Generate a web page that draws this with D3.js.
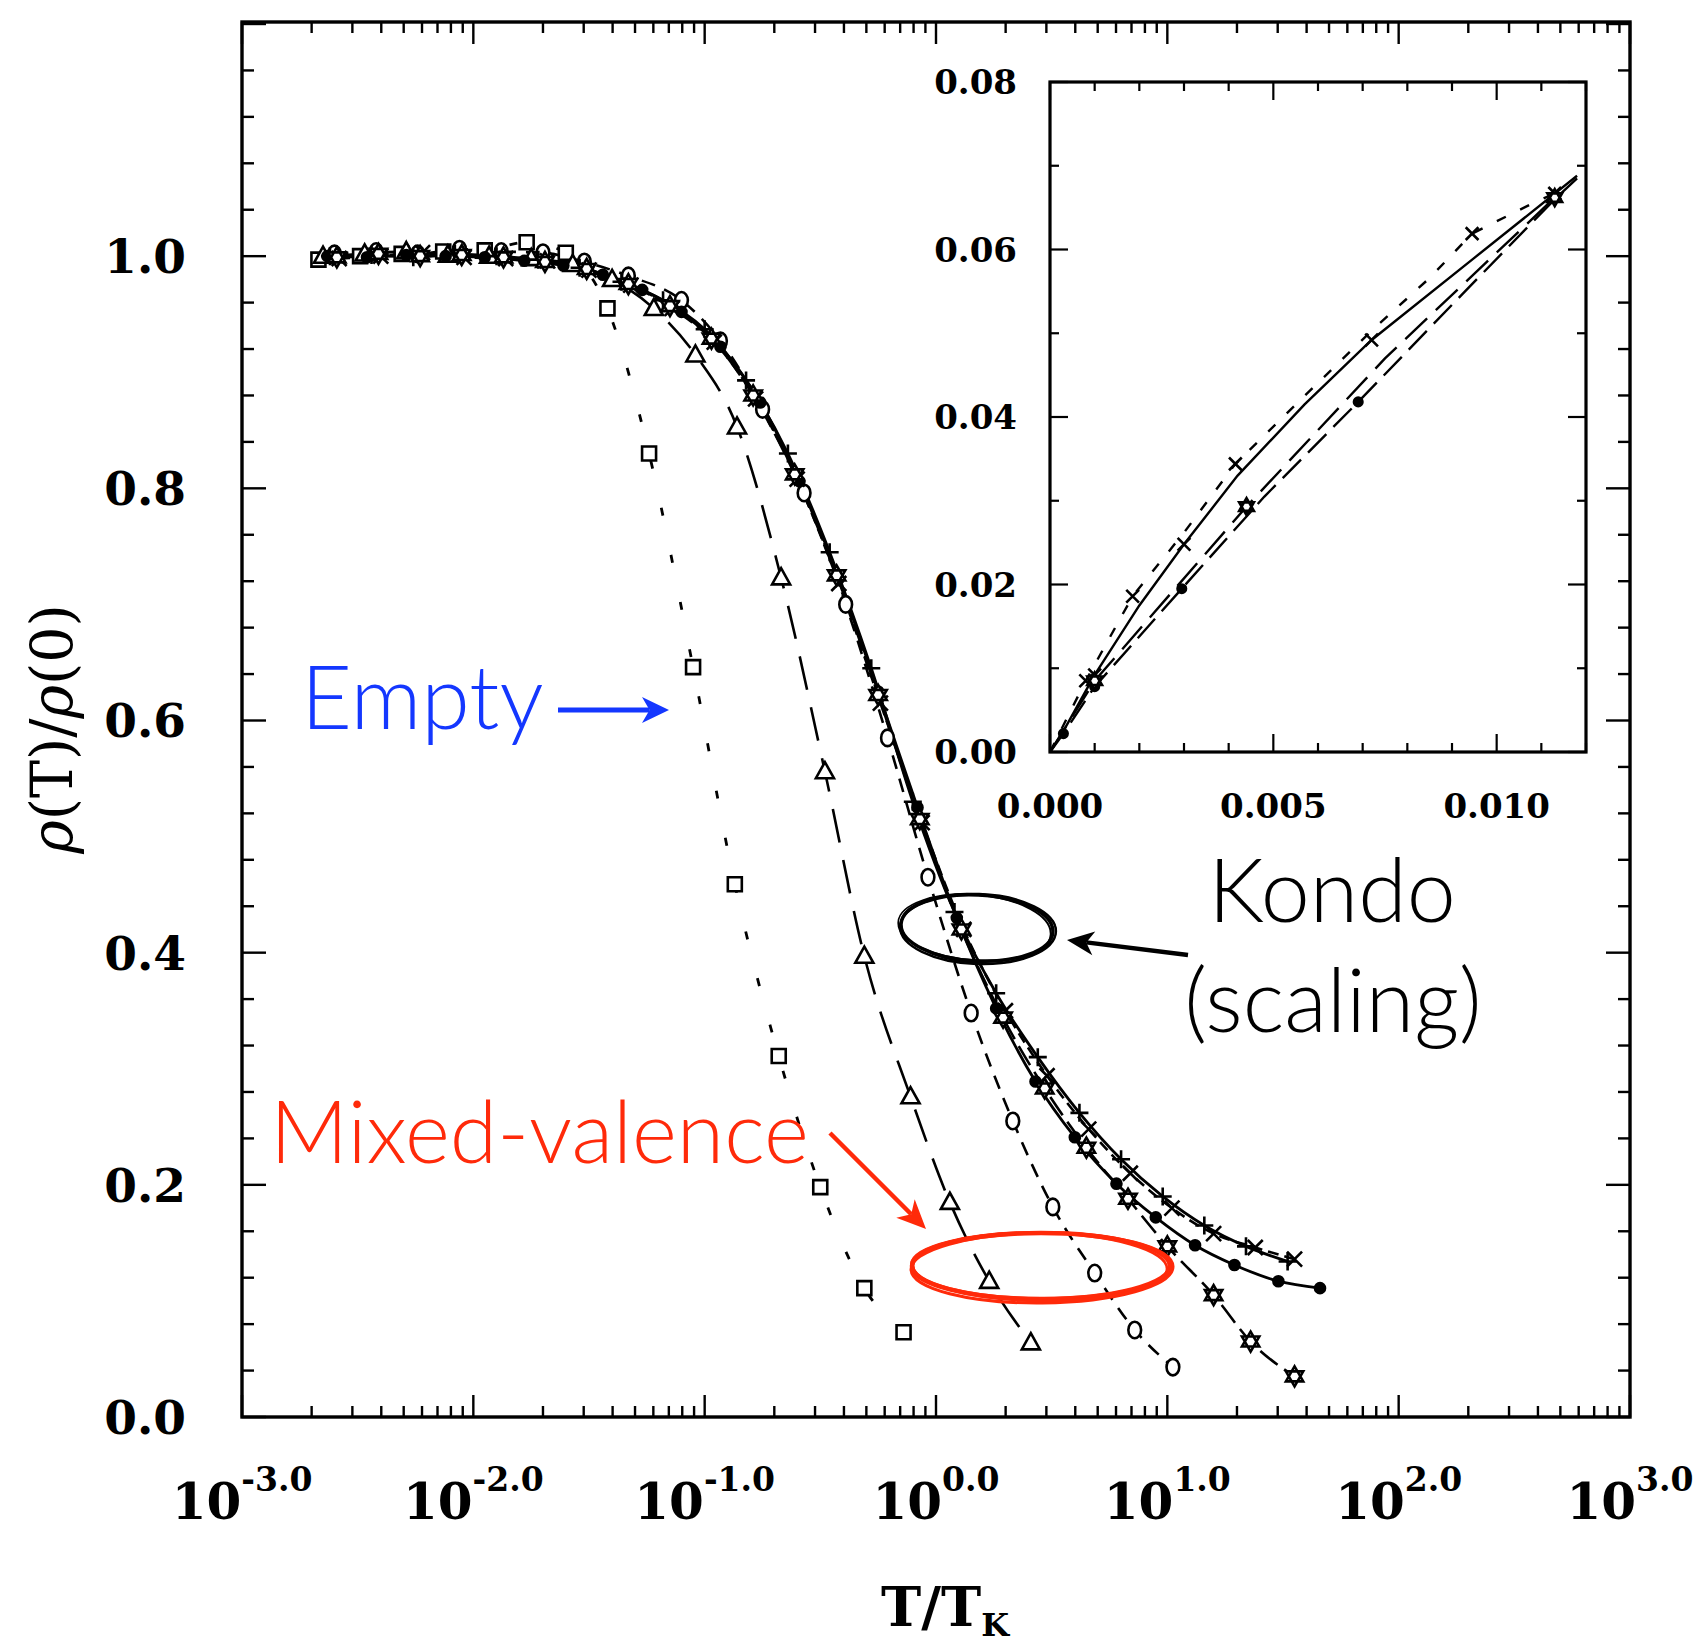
<!DOCTYPE html>
<html>
<head>
<meta charset="utf-8">
<script src="https://cdn.jsdelivr.net/npm/d3@7"></script>
<style>
  html, body { margin: 0; padding: 0; background: #fff; }
  svg { display: block; }
</style>
</head>
<body>
<svg id="chart" width="1703" height="1649"></svg>
<script>
// ---------------- main panel data: rho(T)/rho(0) versus T/T_K ----------------
// empty orbital (open squares, dotted)
const T_EMPTY = [0.00214, 0.00324, 0.00490, 0.00741, 0.0112, 0.0170, 0.0251, 0.0380, 0.0575, 0.0891, 0.135, 0.209, 0.316, 0.490, 0.724];
const R_EMPTY = [0.997, 1.000, 1.002, 1.004, 1.005, 1.012, 1.003, 0.955, 0.830, 0.646, 0.459, 0.311, 0.198, 0.111, 0.073];

// mixed valence (open triangles, long dashes)
const T_TRI = [0.00224, 0.00339, 0.00513, 0.00776, 0.0117, 0.0178, 0.0269, 0.0398, 0.0603, 0.0912, 0.138, 0.214, 0.331, 0.490, 0.776, 1.148, 1.698, 2.570];
const R_TRI = [1.000, 1.002, 1.004, 1.001, 1.000, 0.998, 0.993, 0.980, 0.955, 0.915, 0.853, 0.723, 0.556, 0.397, 0.276, 0.185, 0.117, 0.064];

// mixed valence (open circles, short dashes)
const T_CIRC = [0.00251, 0.00380, 0.00575, 0.00871, 0.0132, 0.0200, 0.0302, 0.0468, 0.0794, 0.117, 0.178, 0.269, 0.407, 0.617, 0.923, 1.419, 2.148, 3.199, 4.853, 7.228, 10.57];
const R_CIRC = [1.002, 1.004, 1.002, 1.006, 1.004, 1.003, 0.995, 0.983, 0.962, 0.927, 0.868, 0.796, 0.700, 0.585, 0.465, 0.348, 0.255, 0.181, 0.124, 0.075, 0.043];

// Kondo regime (plus signs, solid)
const T_PLUS = [0.00240, 0.00363, 0.00550, 0.00832, 0.0126, 0.0191, 0.0288, 0.0437, 0.0661, 0.100, 0.151, 0.229, 0.347, 0.525, 0.794, 1.202, 1.820, 2.754, 4.169, 6.310, 9.550, 14.45, 21.88, 33.11];
const R_PLUS = [1.000, 1.001, 0.999, 1.002, 1.000, 0.997, 0.990, 0.978, 0.962, 0.937, 0.893, 0.830, 0.745, 0.645, 0.530, 0.435, 0.365, 0.310, 0.262, 0.222, 0.190, 0.165, 0.147, 0.134];

// Kondo regime (crosses, dashed)
const T_CROSS = [0.00263, 0.00398, 0.00603, 0.00912, 0.0138, 0.0209, 0.0316, 0.0479, 0.0724, 0.110, 0.166, 0.251, 0.380, 0.575, 0.871, 1.318, 1.995, 3.020, 4.571, 6.918, 10.47, 15.85, 23.99, 35.48];
const R_CROSS = [0.998, 1.000, 1.003, 0.999, 0.998, 0.996, 0.988, 0.975, 0.955, 0.926, 0.877, 0.808, 0.718, 0.615, 0.512, 0.420, 0.350, 0.294, 0.248, 0.210, 0.180, 0.158, 0.146, 0.136];

// Kondo regime (filled dots, solid)
const T_DOT = [0.00234, 0.00347, 0.00513, 0.00759, 0.0112, 0.0166, 0.0245, 0.0363, 0.0537, 0.0794, 0.117, 0.174, 0.257, 0.380, 0.562, 0.832, 1.230, 1.820, 2.692, 3.981, 6.026, 8.913, 13.18, 19.50, 30.20, 45.71];
const R_DOT = [1.000, 0.999, 1.001, 1.000, 0.999, 0.996, 0.992, 0.984, 0.971, 0.952, 0.922, 0.874, 0.806, 0.722, 0.625, 0.525, 0.430, 0.352, 0.289, 0.241, 0.201, 0.172, 0.148, 0.131, 0.117, 0.111];

// Kondo regime (six-pointed stars, long dashes)
const T_STAR = [0.00257, 0.00389, 0.00589, 0.00891, 0.0135, 0.0204, 0.0309, 0.0468, 0.0708, 0.107, 0.162, 0.245, 0.372, 0.562, 0.851, 1.288, 1.950, 2.951, 4.467, 6.761, 10.00, 15.85, 22.91, 35.48];
const R_STAR = [0.999, 1.002, 1.000, 1.001, 0.999, 0.995, 0.989, 0.976, 0.957, 0.929, 0.880, 0.812, 0.725, 0.622, 0.515, 0.420, 0.344, 0.283, 0.232, 0.188, 0.147, 0.105, 0.065, 0.035];

// axis labelling
const X_TICK_VAL = [1e-3, 1e-2, 1e-1, 1, 10, 100, 1000];
const X_TICK_EXP = ['-3.0', '-2.0', '-1.0', '0.0', '1.0', '2.0', '3.0'];
const Y_TICK_VAL = [0, 0.2, 0.4, 0.6, 0.8, 1.0];
const Y_TICK_LBL = ['0.0', '0.2', '0.4', '0.6', '0.8', '1.0'];

// ---------------- inset data: low-temperature region ----------------
const IN_SOLID_X = [0, 0.0003, 0.0010, 0.0020, 0.0030, 0.0042, 0.0057, 0.0072, 0.0095, 0.0118];
const IN_SOLID_Y = [0, 0.0025, 0.0092, 0.0175, 0.0248, 0.0330, 0.0415, 0.0492, 0.0590, 0.0688];
const IN_SOLID_MX = [0.0010, 0.0030, 0.0072, 0.0113];
const IN_SOLID_MY = [0.0092, 0.0248, 0.0492, 0.0667];

const IN_DASH_X = [0, 0.0008, 0.00185, 0.0030, 0.00415, 0.0056, 0.0072, 0.0085, 0.00945, 0.0108, 0.0113];
const IN_DASH_Y = [0, 0.0085, 0.0186, 0.0262, 0.0344, 0.0420, 0.0503, 0.0566, 0.0619, 0.0655, 0.0667];
const IN_DASH_MX = [0.0008, 0.00185, 0.00415, 0.00945];
const IN_DASH_MY = [0.0085, 0.0186, 0.0344, 0.0619];

const IN_DOT_X = [0, 0.0003, 0.0010, 0.00295, 0.0048, 0.0069, 0.0092, 0.0113, 0.0118];
const IN_DOT_Y = [0, 0.0022, 0.0078, 0.0195, 0.0305, 0.0418, 0.0545, 0.0660, 0.0685];
const IN_DOT_MX = [0.0003, 0.0010, 0.00295, 0.0069];
const IN_DOT_MY = [0.0022, 0.0078, 0.0195, 0.0418];

const IN_STAR_X = [0, 0.0010, 0.0044, 0.0075, 0.0113];
const IN_STAR_Y = [0, 0.0085, 0.0293, 0.0470, 0.0662];
const IN_STAR_MX = [0.0010, 0.0044, 0.0113];
const IN_STAR_MY = [0.0085, 0.0293, 0.0662];

const IN_X_TICK_VAL = [0, 0.005, 0.010];
const IN_X_TICK_LBL = ['0.000', '0.005', '0.010'];
const IN_Y_TICK_VAL = [0, 0.02, 0.04, 0.06, 0.08];
const IN_Y_TICK_LBL = ['0.00', '0.02', '0.04', '0.06', '0.08'];

// ---------------- geometry ----------------
const svg = d3.select('#chart');
const M = { left: 242, right: 1630, top: 22, bottom: 1417 };
const x = d3.scaleLog().domain([1e-3, 1e3]).range([M.left, M.right]);
const y = d3.scaleLinear().domain([0, 1.2]).range([M.bottom, 24]);

const I = { left: 1050, right: 1586, top: 82, bottom: 752 };
const ix = d3.scaleLinear().domain([0, 0.012]).range([I.left, I.right]);
const iy = d3.scaleLinear().domain([0, 0.08]).range([I.bottom, I.top]);

const TICK_FONT = '"DejaVu Serif", "Liberation Serif", serif';
const NOTE_FONT = 'Lato, "Open Sans", "Noto Sans", sans-serif';

// ---------------- marker shapes (size = radius in px) ----------------
const symSquare = { draw(c, r) { c.rect(-r, -r, 2 * r, 2 * r); } };
const symTriangle = { draw(c, r) { c.moveTo(0, -r); c.lineTo(r * 0.95, r * 0.7); c.lineTo(-r * 0.95, r * 0.7); c.closePath(); } };
// slightly tall oval, as the circles print on the page
const symOval = { draw(c, r) {
  const rx = r * 0.85, ry = r * 1.1, k = 0.5523;
  c.moveTo(rx, 0);
  c.bezierCurveTo(rx, ry * k, rx * k, ry, 0, ry);
  c.bezierCurveTo(-rx * k, ry, -rx, ry * k, -rx, 0);
  c.bezierCurveTo(-rx, -ry * k, -rx * k, -ry, 0, -ry);
  c.bezierCurveTo(rx * k, -ry, rx, -ry * k, rx, 0);
  c.closePath();
} };
const symCircle = { draw(c, r) { c.moveTo(r, 0); c.arc(0, 0, r, 0, 2 * Math.PI); } };
const symPlus = { draw(c, r) { c.moveTo(-r, 0); c.lineTo(r, 0); c.moveTo(0, -r); c.lineTo(0, r); } };
const symCross = { draw(c, r) { const a = r * 0.75; c.moveTo(-a, -a); c.lineTo(a, a); c.moveTo(-a, a); c.lineTo(a, -a); } };
const symStar6 = { draw(c, r) {
  for (const off of [-Math.PI / 2, Math.PI / 2]) {
    for (let k = 0; k < 3; k++) {
      const a = off + k * 2 * Math.PI / 3;
      const px = r * Math.cos(a), py = r * Math.sin(a);
      if (k === 0) c.moveTo(px, py); else c.lineTo(px, py);
    }
    c.closePath();
  }
} };

const markerStyle = {
  square:   { type: symSquare,   r: 7,   fill: '#fff' },
  triangle: { type: symTriangle, r: 9.5, fill: '#fff' },
  circle:   { type: symOval,     r: 7.5, fill: '#fff' },
  plus:     { type: symPlus,     r: 9,   fill: 'none' },
  cross:    { type: symCross,    r: 10,  fill: 'none' },
  dot:      { type: symCircle,   r: 5,   fill: '#000' },
  star:     { type: symStar6,    r: 10,  fill: '#fff' }
};

function drawMarkers(g, pts, kind, sx, sy, scale) {
  const st = markerStyle[kind];
  const r = st.r * (scale || 1);
  g.selectAll(null).data(pts).join('path')
    .attr('transform', d => `translate(${sx(d[0])},${sy(d[1])})`)
    .attr('d', d3.symbol().type(st.type).size(r))
    .attr('fill', st.fill)
    .attr('stroke', '#000')
    .attr('stroke-width', 2.6);
}

// ---------------- main panel ----------------
const main = svg.append('g');

const mainSeries = [
  { t: T_EMPTY, r: R_EMPTY, marker: 'square',   dash: '8,40',  w: 2.8 },
  { t: T_TRI,   r: R_TRI,   marker: 'triangle', dash: '34,18', w: 2.6 },
  { t: T_CIRC,  r: R_CIRC,  marker: 'circle',   dash: '14,10', w: 2.6 },
  { t: T_PLUS,  r: R_PLUS,  marker: 'plus',     dash: null,    w: 2.8 },
  { t: T_CROSS, r: R_CROSS, marker: 'cross',    dash: '11,6',  w: 2.6 },
  { t: T_DOT,   r: R_DOT,   marker: 'dot',      dash: null,    w: 2.8 },
  { t: T_STAR,  r: R_STAR,  marker: 'star',     dash: '22,8',  w: 2.6 }
];

const mainLine = d3.line().x(d => x(d[0])).y(d => y(d[1])).curve(d3.curveMonotoneX);
mainSeries.forEach(s => {
  const pts = s.t.map((v, i) => [v, s.r[i]]);
  main.append('path').datum(pts)
    .attr('d', mainLine)
    .attr('fill', 'none')
    .attr('stroke', '#000')
    .attr('stroke-width', s.w)
    .attr('stroke-dasharray', s.dash);
  s.pts = pts;
});
mainSeries.forEach(s => drawMarkers(main.append('g'), s.pts, s.marker, x, y));

// frame
main.append('rect')
  .attr('x', M.left).attr('y', M.top)
  .attr('width', M.right - M.left).attr('height', M.bottom - M.top)
  .attr('fill', 'none').attr('stroke', '#000').attr('stroke-width', 3.4);

// logarithmic ticks, bottom and top, pointing inward
const xTicks = x.ticks();
const isDecade = t => Math.abs(Math.log10(t) - Math.round(Math.log10(t))) < 1e-9;
main.append('g').selectAll('line').data(xTicks).join('line')
  .attr('x1', d => x(d)).attr('x2', d => x(d))
  .attr('y1', M.bottom).attr('y2', d => M.bottom - (isDecade(d) ? 22 : 11))
  .attr('stroke', '#000').attr('stroke-width', 2.4);
main.append('g').selectAll('line').data(xTicks).join('line')
  .attr('x1', d => x(d)).attr('x2', d => x(d))
  .attr('y1', M.top).attr('y2', d => M.top + (isDecade(d) ? 22 : 11))
  .attr('stroke', '#000').attr('stroke-width', 2.4);

// linear ticks, left and right, pointing inward
const yMinor = d3.range(0, 1.2001, 0.04);
const isMajorY = v => Math.abs(v / 0.2 - Math.round(v / 0.2)) < 1e-6;
main.append('g').selectAll('line').data(yMinor).join('line')
  .attr('y1', d => y(d)).attr('y2', d => y(d))
  .attr('x1', M.left).attr('x2', d => M.left + (isMajorY(d) ? 24 : 12))
  .attr('stroke', '#000').attr('stroke-width', 2.4);
main.append('g').selectAll('line').data(yMinor).join('line')
  .attr('y1', d => y(d)).attr('y2', d => y(d))
  .attr('x1', M.right).attr('x2', d => M.right - (isMajorY(d) ? 24 : 12))
  .attr('stroke', '#000').attr('stroke-width', 2.4);

// y tick labels
main.append('g').selectAll('text').data(Y_TICK_VAL).join('text')
  .attr('x', 186).attr('y', d => y(d)).attr('dy', '0.36em')
  .attr('text-anchor', 'end')
  .attr('font-family', TICK_FONT).attr('font-weight', 'bold').attr('font-size', 47)
  .text((d, i) => Y_TICK_LBL[i]);

// x tick labels: 10 with raised exponent
const xl = main.append('g').selectAll('text').data(X_TICK_VAL).join('text')
  .attr('x', d => x(d)).attr('y', 1519)
  .attr('text-anchor', 'middle')
  .attr('font-family', TICK_FONT).attr('font-weight', 'bold');
xl.append('tspan').attr('font-size', 50).text('10');
xl.append('tspan').attr('font-size', 33).attr('dy', -28).text((d, i) => X_TICK_EXP[i]);

// axis titles
const xt = main.append('text')
  .attr('x', 945).attr('y', 1626).attr('text-anchor', 'middle')
  .attr('font-family', TICK_FONT).attr('font-weight', 'bold');
xt.append('tspan').attr('font-size', 54).text('T/T');
xt.append('tspan').attr('font-size', 32).attr('dy', 10).text('K');

const yt = main.append('text')
  .attr('transform', 'translate(72,729) rotate(-90)')
  .attr('text-anchor', 'middle')
  .attr('font-family', TICK_FONT).attr('font-size', 57);
yt.append('tspan').attr('font-style', 'italic').text('ρ');
yt.append('tspan').text('(T)/');
yt.append('tspan').attr('font-style', 'italic').text('ρ');
yt.append('tspan').text('(0)');

// ---------------- inset ----------------
const inset = svg.append('g');
inset.append('rect')
  .attr('x', I.left).attr('y', I.top)
  .attr('width', I.right - I.left).attr('height', I.bottom - I.top)
  .attr('fill', '#fff');

const inLine = d3.line().x(d => ix(d[0])).y(d => iy(d[1]));
const insetSeries = [
  { xs: IN_SOLID_X, ys: IN_SOLID_Y, mx: IN_SOLID_MX, my: IN_SOLID_MY, marker: 'cross', dash: null },
  { xs: IN_DASH_X,  ys: IN_DASH_Y,  mx: IN_DASH_MX,  my: IN_DASH_MY,  marker: 'cross', dash: '10,16' },
  { xs: IN_DOT_X,   ys: IN_DOT_Y,   mx: IN_DOT_MX,   my: IN_DOT_MY,   marker: 'dot',   dash: '26,10' },
  { xs: IN_STAR_X,  ys: IN_STAR_Y,  mx: IN_STAR_MX,  my: IN_STAR_MY,  marker: 'star',  dash: '30,12' }
];
insetSeries.forEach(s => {
  inset.append('path').datum(s.xs.map((v, i) => [v, s.ys[i]]))
    .attr('d', inLine)
    .attr('fill', 'none').attr('stroke', '#000').attr('stroke-width', 2.4)
    .attr('stroke-dasharray', s.dash);
});
insetSeries.forEach(s => drawMarkers(inset.append('g'), s.mx.map((v, i) => [v, s.my[i]]), s.marker, ix, iy, 0.85));

inset.append('rect')
  .attr('x', I.left).attr('y', I.top)
  .attr('width', I.right - I.left).attr('height', I.bottom - I.top)
  .attr('fill', 'none').attr('stroke', '#000').attr('stroke-width', 3.2);

const ixMinor = d3.range(0, 0.01201, 0.001);
const isMajorIX = v => Math.abs(v / 0.005 - Math.round(v / 0.005)) < 1e-6;
[I.bottom, I.top].forEach((edge, k) => {
  const dir = k === 0 ? -1 : 1;
  inset.append('g').selectAll('line').data(ixMinor).join('line')
    .attr('x1', d => ix(d)).attr('x2', d => ix(d))
    .attr('y1', edge).attr('y2', d => edge + dir * (isMajorIX(d) ? 18 : 9))
    .attr('stroke', '#000').attr('stroke-width', 2.2);
});
const iyMinor = d3.range(0, 0.08001, 0.01);
const isMajorIY = v => Math.abs(v / 0.02 - Math.round(v / 0.02)) < 1e-6;
[I.left, I.right].forEach((edge, k) => {
  const dir = k === 0 ? 1 : -1;
  inset.append('g').selectAll('line').data(iyMinor).join('line')
    .attr('y1', d => iy(d)).attr('y2', d => iy(d))
    .attr('x1', edge).attr('x2', d => edge + dir * (isMajorIY(d) ? 18 : 9))
    .attr('stroke', '#000').attr('stroke-width', 2.2);
});

inset.append('g').selectAll('text').data(IN_Y_TICK_VAL).join('text')
  .attr('x', 1017).attr('y', d => iy(d)).attr('dy', '0.36em')
  .attr('text-anchor', 'end')
  .attr('font-family', TICK_FONT).attr('font-weight', 'bold').attr('font-size', 34)
  .text((d, i) => IN_Y_TICK_LBL[i]);
inset.append('g').selectAll('text').data(IN_X_TICK_VAL).join('text')
  .attr('x', d => ix(d)).attr('y', 818)
  .attr('text-anchor', 'middle')
  .attr('font-family', TICK_FONT).attr('font-weight', 'bold').attr('font-size', 34)
  .text((d, i) => IN_X_TICK_LBL[i]);

// ---------------- annotations ----------------
const notes = svg.append('g');

function arrow(g, x0, y0, x1, y1, color, width, len, half) {
  const ang = Math.atan2(y1 - y0, x1 - x0);
  const notch = len * 0.72;
  const ex = x1 - notch * Math.cos(ang), ey = y1 - notch * Math.sin(ang);
  g.append('line').attr('x1', x0).attr('y1', y0).attr('x2', ex).attr('y2', ey)
    .attr('stroke', color).attr('stroke-width', width);
  const p = d3.path();
  p.moveTo(0, 0); p.lineTo(-len, -half); p.lineTo(-notch, 0); p.lineTo(-len, half); p.closePath();
  g.append('path').attr('d', p.toString())
    .attr('transform', `translate(${x1},${y1}) rotate(${ang * 180 / Math.PI})`)
    .attr('fill', color);
}

function sketchEllipse(g, cx, cy, rx, ry, rot, color, passes) {
  passes.forEach(p => {
    g.append('ellipse')
      .attr('cx', cx + p[0]).attr('cy', cy + p[1])
      .attr('rx', rx + p[2]).attr('ry', ry + p[3])
      .attr('transform', `rotate(${rot + p[4]},${cx},${cy})`)
      .attr('fill', 'none').attr('stroke', color).attr('stroke-width', p[5]);
  });
}

const BLUE = '#1437ff';
const RED = '#ff2a0a';

notes.append('text').attr('x', 301).attr('y', 729)
  .attr('font-family', NOTE_FONT).attr('font-weight', 300).attr('font-size', 88)
  .attr('fill', BLUE).text('Empty');
arrow(notes, 558, 710, 669, 710, BLUE, 5, 27, 13);

notes.append('text').attr('x', 1332).attr('y', 922).attr('text-anchor', 'middle')
  .attr('font-family', NOTE_FONT).attr('font-weight', 300).attr('font-size', 88)
  .attr('fill', '#000').text('Kondo');
notes.append('text').attr('x', 1333).attr('y', 1032).attr('text-anchor', 'middle')
  .attr('font-family', NOTE_FONT).attr('font-weight', 300).attr('font-size', 88)
  .attr('fill', '#000').text('(scaling)');
arrow(notes, 1188, 955, 1067, 940, '#000', 4.5, 27, 12);
sketchEllipse(notes, 977, 928, 76, 33, 3, '#000', [
  [0, 0, 0, 0, 0, 3.4], [1, 1, 2, 2, -1, 2.4], [-1, 1, -1, 1, 1.5, 2], [0, -1, 3, 0, 0.5, 1.6]
]);

notes.append('text').attr('x', 270).attr('y', 1163)
  .attr('font-family', NOTE_FONT).attr('font-weight', 300).attr('font-size', 86)
  .attr('fill', RED).text('Mixed-valence');
arrow(notes, 830, 1133, 926, 1229, RED, 4.5, 29, 13);
sketchEllipse(notes, 1041, 1266, 129, 33, 0, RED, [
  [0, 0, 0, 0, 0, 4.5], [1, 2, 2, 2, -0.6, 3], [-1, 1, -2, 1, 0.8, 2.6], [0, -1, 1, 0, 0.3, 2]
]);
</script>
</body>
</html>
